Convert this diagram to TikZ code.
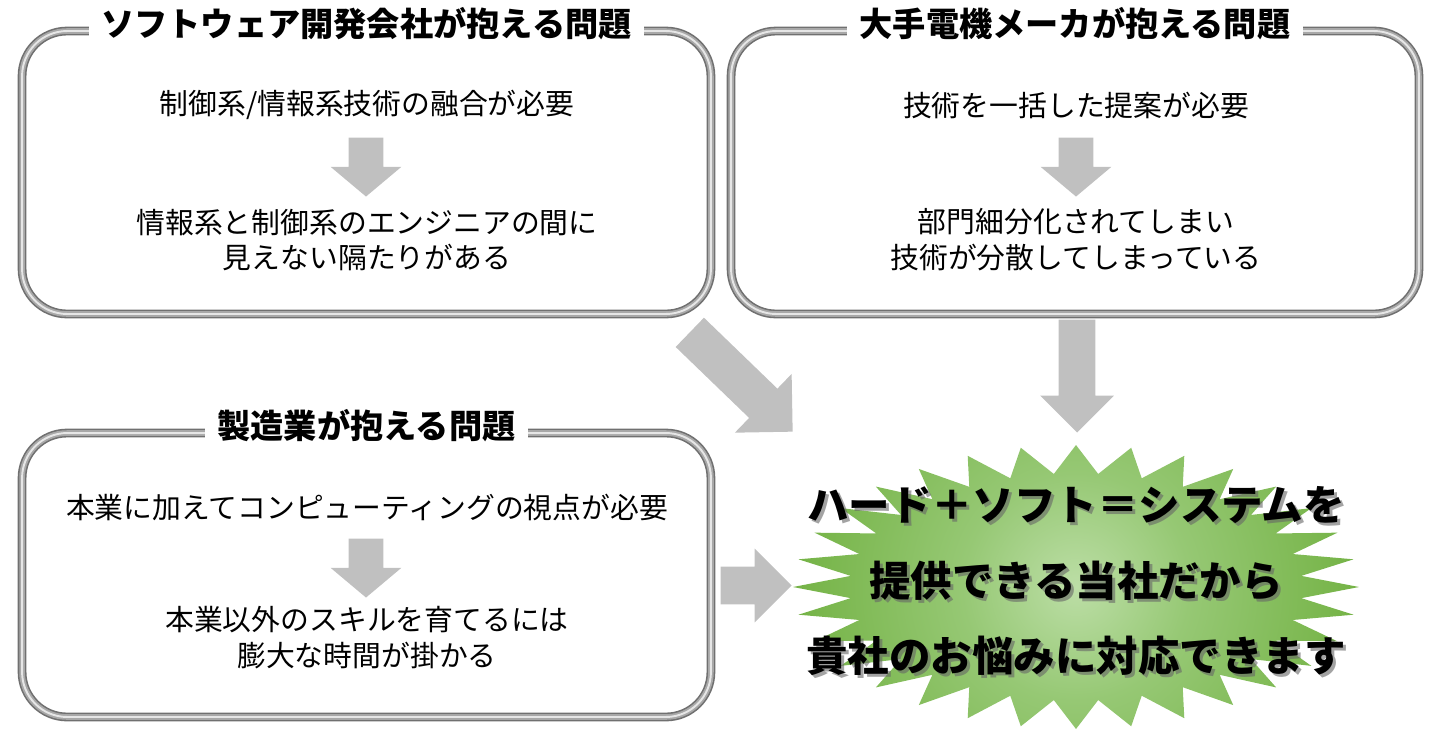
\documentclass[tikz,border=0pt]{standalone}
\usepackage{fontspec}
\setmainfont{Noto Sans CJK JP}
\usepackage{tikz}
\usetikzlibrary{shapes,arrows,positioning,calc}
\usepackage{xcolor}
\definecolor{tubedark}{RGB}{112,112,112}
\definecolor{tubemid}{RGB}{168,168,168}
\definecolor{tubelight}{RGB}{230,230,230}
\definecolor{arrowgray}{RGB}{192,192,192}
\definecolor{burstlight}{RGB}{188,222,166}
\definecolor{burstsoft}{RGB}{150,200,116}
\definecolor{burstmid}{RGB}{118,180,72}
\definecolor{burstdark}{RGB}{76,136,42}
\pgfdeclareradialshading{burstshade}{\pgfpoint{0bp}{0bp}}{color(0bp)=(burstlight); color(10bp)=(burstsoft); color(24bp)=(burstmid); color(50bp)=(burstdark)}
\tikzstyle{tube} = [rectangle, rounded corners=0.9cm, draw=tubedark, line width=5pt, postaction={draw=tubemid, line width=3.2pt}, postaction={draw=tubelight, line width=1.1pt}]
\tikzstyle{boxtitle} = [fill=white, inner xsep=7pt, inner ysep=1pt, font=\fontsize{18.9}{22}\selectfont\bfseries]
\tikzstyle{bodytext} = [align=center, inner sep=0pt, font=\fontsize{16.4}{20.4}\selectfont]
\tikzstyle{bigarrow} = [single arrow, fill=arrowgray, inner xsep=0pt, inner ysep=0.36cm, single arrow head extend=0.37cm, anchor=tip]
\tikzstyle{smallarrow} = [single arrow, fill=arrowgray, inner xsep=0pt, inner ysep=0.34cm, single arrow head extend=0.36cm, minimum height=1.18cm, single arrow tip angle=100, rotate=-90, anchor=tip]
\tikzstyle{bursttext} = [align=center, inner sep=0pt, font=\fontsize{23.6}{43}\selectfont\bfseries]

\begin{document}
\begin{tikzpicture}[x=0.02cm, y=-0.02cm]
    \useasboundingbox (0,0) rectangle (1430,741);

    % Software company
    \node[tube, minimum width=13.78cm, minimum height=5.66cm] (soft) at (366.5,172.5) {};
    \node[boxtitle, yshift=0.06cm] (softtitle) at (soft.north) {ソフトウェア開発会社が抱える問題};
    \node[bodytext] (softneed) at (367,105) {制御系/情報系技術の融合が必要};
    \node[smallarrow] (softarrow) at (366,197) {};
    \node[bodytext] (softgap) at (367,240) {情報系と制御系のエンジニアの間に\\見えない隔たりがある};

    % Electronics maker
    \node[tube, minimum width=13.76cm, minimum height=5.66cm] (maker) at (1075,172.5) {};
    \node[boxtitle, yshift=0.06cm] (makertitle) at (maker.north) {大手電機メーカが抱える問題};
    \node[bodytext] (makerneed) at (1076,105) {技術を一括した提案が必要};
    \node[smallarrow] (makerarrow) at (1076,197) {};
    \node[bodytext] (makergap) at (1076,240) {部門細分化されてしまい\\技術が分散してしまっている};

    % Manufacturing
    \node[tube, minimum width=13.78cm, minimum height=5.68cm] (mfg) at (366.5,575) {};
    \node[boxtitle, yshift=0.06cm] (mfgtitle) at (mfg.north) {製造業が抱える問題};
    \node[bodytext] (mfgneed) at (367,507) {本業に加えてコンピューティングの視点が必要};
    \node[smallarrow] (mfgarrow) at (366,598) {};
    \node[bodytext] (mfggap) at (367,638) {本業以外のスキルを育てるには\\膨大な時間が掛かる};

    % Starburst
    \coordinate (burstc) at (1076,587);
    \begin{scope}
        \clip plot[samples at={0,...,63}] ({1076+283*(1-0.2*mod(\x,2))*cos(\x*5.625)}, {587+142*(1-0.2*mod(\x,2))*sin(\x*5.625)}) -- cycle;
        \shade[shading=burstshade] (burstc) circle[radius=5.7cm];
    \end{scope}
    \node[bursttext, text=black!60, opacity=0.6] (burstshadow) at (1079,584) {ハード＋ソフト＝システムを\\提供できる当社だから\\貴社のお悩みに対応できます};
    \node[bursttext] (burst) at (1076,581) {ハード＋ソフト＝システムを\\提供できる当社だから\\貴社のお悩みに対応できます};

    % Arrows into the starburst
    \node[bigarrow, minimum height=2.86cm, inner ysep=0.4cm, single arrow head extend=0.41cm, rotate=-44] (softtoburst) at (793,432) {};
    \node[bigarrow, minimum height=2.26cm, rotate=-90] (makertoburst) at (1077,433) {};
    \node[bigarrow, minimum height=1.42cm, inner ysep=0.37cm, single arrow head extend=0.36cm] (mfgtoburst) at (792,585.5) {};
\end{tikzpicture}
\end{document}
